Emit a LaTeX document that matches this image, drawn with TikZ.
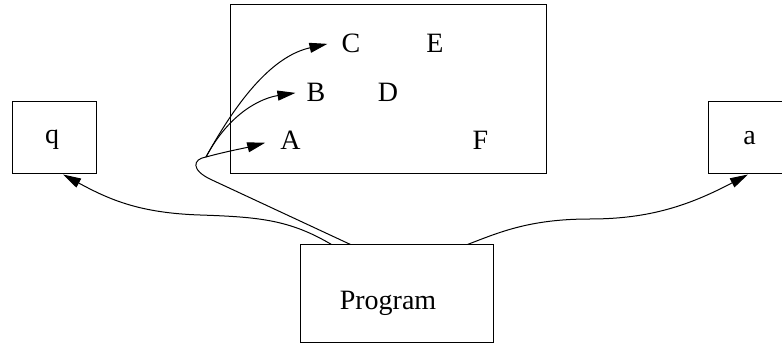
\documentclass[tikz,border=0pt]{standalone}
\usepackage{fontspec}
\setmainfont{Liberation Serif}
\usetikzlibrary{arrows.meta}
\begin{document}
\begin{tikzpicture}[x=1pt,y=-1pt,
  boxnode/.style={draw, line width=1pt, rectangle, inner sep=0pt},
  txt/.style={anchor=base, inner sep=0pt, font=\fontsize{28}{30}\selectfont},
  edgeline/.style={line width=1pt},
  arr/.style={edgeline, -{Triangle[length=18pt,width=10pt]}}]
\useasboundingbox (0,0) rectangle (782,347);
\clip (0,0) rectangle (782,347);
% boxes
\node[boxnode, minimum width=84pt, minimum height=72pt] (qbox) at (54,138) {};
\node[boxnode, minimum width=84pt, minimum height=72pt] (abox) at (750,138) {};
\node[boxnode, minimum width=316pt, minimum height=169pt] (cluster) at (388,89.5) {};
\node[boxnode, minimum width=193pt, minimum height=98pt] (prog) at (396.5,294) {};
% texts
\node[txt] (q) at (52,144) {q};
\node[txt] (a) at (749.5,145) {a};
\node[txt] (C) at (351,53) {C};
\node[txt] (E) at (435,53) {E};
\node[txt] (B) at (316,102) {B};
\node[txt] (D) at (388,102) {D};
\node[txt] (A) at (290.5,150) {A};
\node[txt] (F) at (480.5,150) {F};
\node[txt] (progtxt) at (388,310) {Program};
% edges
\coordinate (split) at (206,157);
\draw[edgeline] ([xshift=51pt]prog.north west) -- (212,180) .. controls (190,170) and (193,159) .. (split);
\draw[arr] (split) .. controls (226,151.5) and (245,148) .. ([xshift=-15pt,yshift=-2pt]A.west);
\draw[arr] (split) .. controls (230,112) and (262,98) .. ([xshift=-11pt]B.west);
\draw[arr] (split) .. controls (244,88) and (278,55) .. ([xshift=-14pt]C.west);
\draw[arr] ([xshift=32pt]prog.north west) .. controls (290,220) and (260,217) .. (200,215) .. controls (140,213) and (110,200) .. ([xshift=9pt]qbox.south);
\draw[arr] ([xshift=168pt]prog.north west) .. controls (500,232) and (530,219) .. (590,219) .. controls (650,219) and (690,205) .. ([xshift=-2pt]abox.south);
\end{tikzpicture}
\end{document}
